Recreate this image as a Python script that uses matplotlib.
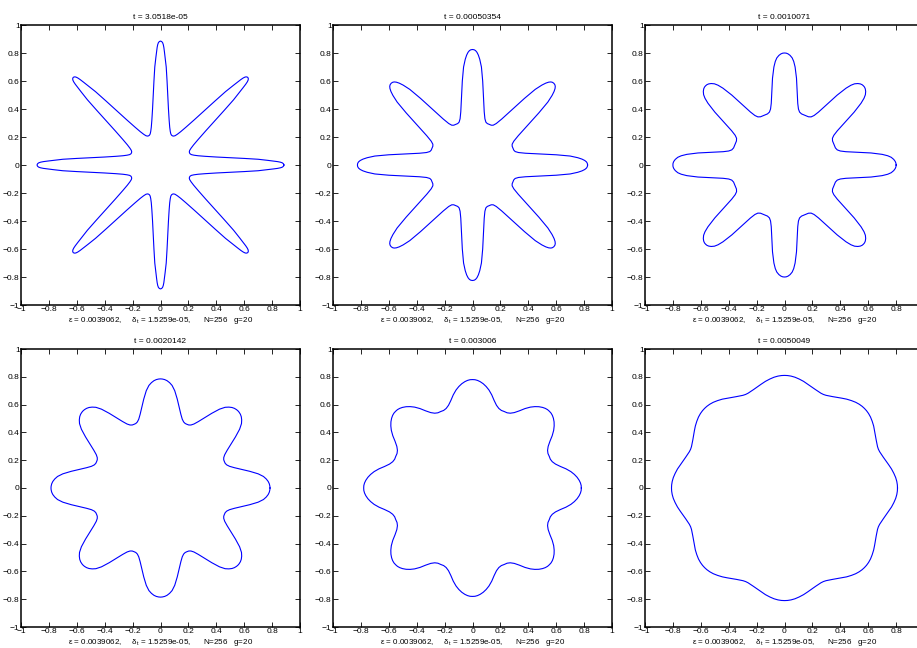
import numpy as np
import matplotlib
matplotlib.use("Agg")
import matplotlib.pyplot as plt
from matplotlib.ticker import FuncFormatter

plt.rcParams['font.family'] = ['Liberation Sans', 'DejaVu Sans']
plt.rcParams['mathtext.fontset'] = 'custom'
plt.rcParams['mathtext.rm'] = 'Liberation Sans'
plt.rcParams['mathtext.it'] = 'Liberation Sans'

# Panel titles (time stamps)
titles = ["t = 3.0518e-05", "t = 0.00050354", "t = 0.0010071",
          "t = 0.0020142", "t = 0.003006", "t = 0.0050049"]
xlabel_text = r"$\varepsilon$ = 0.0039062,     $\delta_\mathrm{t}$ = 1.5259e-05,      N=256   g=20"
tick_values = [-1, -0.8, -0.6, -0.4, -0.2, 0, 0.2, 0.4, 0.6, 0.8, 1]

# Half-lobe outlines: from the arm tip on the x axis
# to the valley on the 22.5 degree line (8-fold symmetric interfaces).
p1_x = [0.885, 0.882, 0.874, 0.860, 0.840, 0.810, 0.770, 0.700, 0.600, 0.500, 0.400, 0.320, 0.270, 0.240, 0.222, 0.213, 0.208]
p1_y = [0.000, 0.008, 0.015, 0.020, 0.024, 0.028, 0.033, 0.041, 0.047, 0.052, 0.057, 0.062, 0.066, 0.070, 0.074, 0.079, 0.086]

p2_x = [0.825, 0.823, 0.817, 0.805, 0.785, 0.755, 0.700, 0.600, 0.480, 0.380, 0.330, 0.306, 0.296, 0.290]
p2_y = [0.000, 0.012, 0.022, 0.032, 0.042, 0.052, 0.064, 0.073, 0.079, 0.084, 0.089, 0.096, 0.106, 0.120]

p3_x = [0.800, 0.799, 0.794, 0.783, 0.765, 0.740, 0.700, 0.620, 0.520, 0.440, 0.400, 0.378, 0.365, 0.355]
p3_y = [0.000, 0.012, 0.025, 0.040, 0.055, 0.066, 0.076, 0.086, 0.091, 0.095, 0.100, 0.108, 0.122, 0.147]

p4_x = [0.785, 0.784, 0.780, 0.772, 0.758, 0.738, 0.700, 0.640, 0.580, 0.530, 0.495, 0.475, 0.464, 0.458]
p4_y = [0.000, 0.013, 0.030, 0.047, 0.065, 0.083, 0.102, 0.120, 0.134, 0.146, 0.156, 0.166, 0.177, 0.190]

p5_x = [0.780, 0.779, 0.774, 0.765, 0.750, 0.730, 0.705, 0.670, 0.630, 0.595, 0.572, 0.558, 0.550]
p5_y = [0.000, 0.018, 0.036, 0.055, 0.077, 0.098, 0.118, 0.138, 0.155, 0.172, 0.189, 0.207, 0.228]

p6_x = [0.810, 0.809, 0.805, 0.797, 0.784, 0.767, 0.747, 0.727, 0.708, 0.693, 0.682, 0.673]
p6_y = [0.000, 0.022, 0.047, 0.075, 0.105, 0.137, 0.167, 0.195, 0.222, 0.244, 0.261, 0.279]

panels_x = [p1_x, p2_x, p3_x, p4_x, p5_x, p6_x]
panels_y = [p1_y, p2_y, p3_y, p4_y, p5_y, p6_y]


def full_curve(hx, hy):
    hx = np.asarray(hx, float)
    hy = np.asarray(hy, float)
    c = np.cos(np.pi / 4)
    s = np.sin(np.pi / 4)
    # mirror across the 22.5 deg line
    rx = c * hx + s * hy
    ry = s * hx - c * hy
    ox = np.concatenate([hx, rx[::-1][1:]])
    oy = np.concatenate([hy, ry[::-1][1:]])
    xs, ys = [], []
    for k in range(8):
        a = k * np.pi / 4
        ca, sa = np.cos(a), np.sin(a)
        px = ca * ox - sa * oy
        py = sa * ox + ca * oy
        if k > 0:
            px, py = px[1:], py[1:]
        xs.append(px)
        ys.append(py)
    return np.concatenate(xs), np.concatenate(ys)


W, H = 917, 648
fig = plt.figure(figsize=(W / 100, H / 100), dpi=100)

lefts = [21, 333, 645]
aw = 279
rows = [(25, 305), (349, 627)]
label_baselines = [322, 644]

fmt = FuncFormatter(lambda v, p: ("%g" % v).replace("-", "\u2212"))

for i in range(6):
    r, cidx = divmod(i, 3)
    top, bot = rows[r]
    ax = fig.add_axes([lefts[cidx] / W, (H - bot) / H, aw / W, (bot - top) / H])
    x, y = full_curve(panels_x[i], panels_y[i])
    ax.plot(x, y, color=(0, 0, 1), lw=0.8)
    ax.set_xlim(-1, 1)
    ax.set_ylim(-1, 1)
    ax.set_xticks(tick_values)
    ax.set_yticks(tick_values)
    ax.xaxis.set_major_formatter(fmt)
    ax.yaxis.set_major_formatter(fmt)
    ax.tick_params(direction='in', length=3.5, width=0.6, labelsize=6,
                   top=True, right=True, pad=1.0, colors='black')
    for sp in ax.spines.values():
        sp.set_linewidth(1.1)
    ax.set_title(titles[i], fontsize=6, pad=4)
    cx = (lefts[cidx] + aw / 2) / W
    fig.text(cx, (H - label_baselines[r]) / H, xlabel_text, fontsize=5.8,
             ha='center', va='baseline')
    if cidx == 2:
        # the last x tick label lies beyond the right edge of the picture
        fig.canvas.draw()
        ax.get_xticklabels()[-1].set_visible(False)

fig.savefig("out.png", dpi=100)
